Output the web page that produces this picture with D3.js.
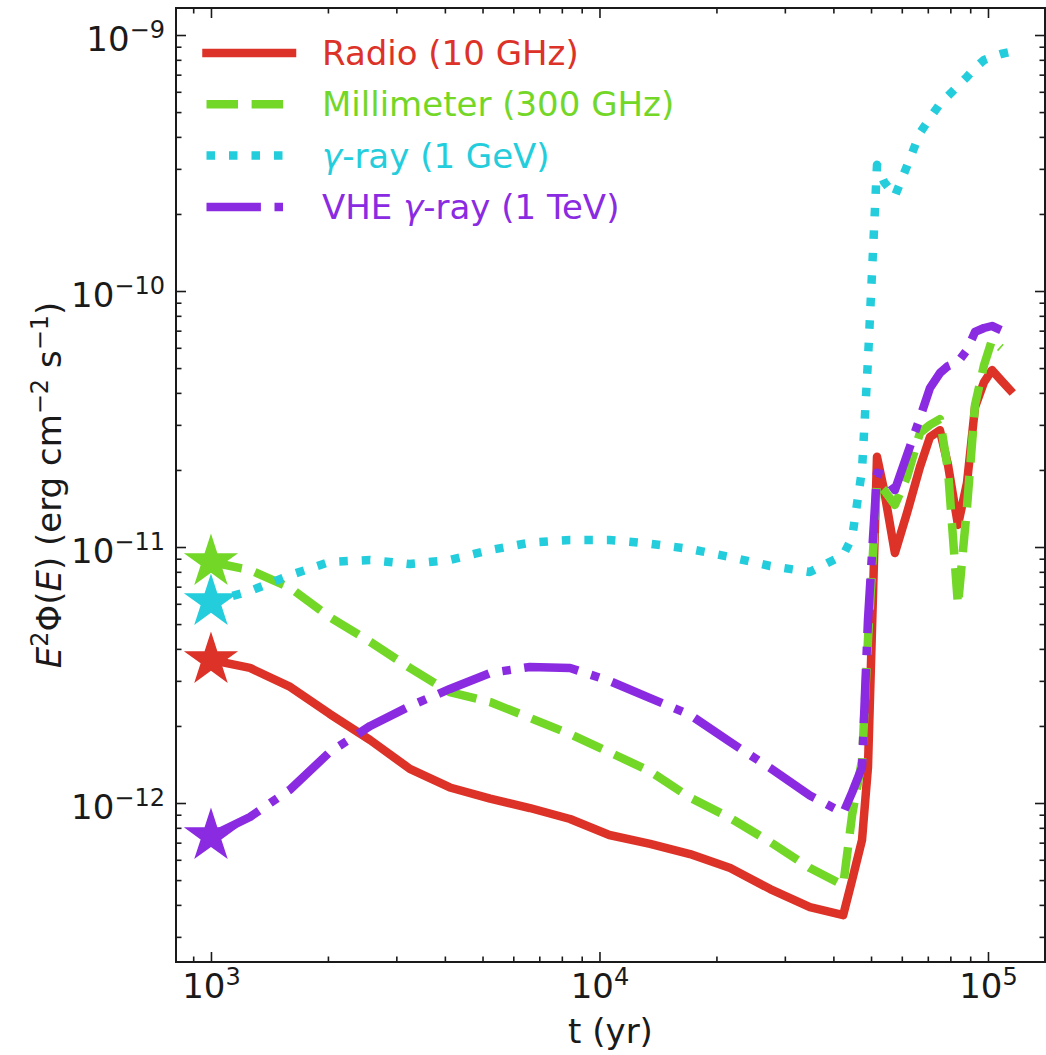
<!DOCTYPE html>
<html>
<head>
<meta charset="utf-8">
<script src="https://cdn.jsdelivr.net/npm/d3@7"></script>
<style>
    body { margin: 0; background: #fff; }
    #chart-area text { font-family: "DejaVu Sans", sans-serif; }
</style>
</head>
<body>
<div id="chart-area"></div>
<script>
// time since explosion (yr)
const times = [1000, 1260, 1600, 2020, 2570, 3250, 4120, 5230, 6620, 8400,
    10600, 13500, 17100, 21700, 27500, 34800, 42400, 44700, 47400, 49100,
    51800, 54000, 57600, 61900, 66800, 70900, 75200, 78900, 83700, 88300,
    92600, 97700, 102400, 108000, 113900];

// E^2 Phi(E), in units of 1e-12 erg cm^-2 s^-1
const fluxUnit = 1e-12;
const radio = [3.62, 3.37, 2.84, 2.23, 1.76, 1.36, 1.15, 1.04, 0.956, 0.866,
    0.750, 0.692, 0.632, 0.557, 0.461, 0.392, 0.365, 0.500, 0.717, 1.38,
    22.5, 16.7, 9.48, 13.6, 20.5, 26.9, 28.6, 20.9, 12.2, 17.8,
    35.2, 44.1, 49.1, 44.9, 41.1];
const millimeter = [8.74, 8.13, 6.92, 5.33, 4.26, 3.37, 2.71, 2.48, 2.15, 1.86,
    1.58, 1.33, 1.05, 0.874, 0.704, 0.557, 0.478, 0.898, 1.47, 4.33,
    17.8, 16.7, 14.6, 18.8, 27.9, 30.0, 31.6, 20.0, 5.93, 14.3,
    35.9, 51.4, 64.4, 59.9, null];
const gammaRay = [6.10, 6.73, 7.77, 8.74, 8.90, 8.58, 8.90, 9.73, 10.4, 10.65,
    10.65, 10.3, 9.82, 9.14, 8.43, 7.99, 9.30, 10.9, 20.0, 53.8,
    311, 267, 235, 308, 414, 474, 538, 578, 632, 686,
    743, 799, 821, 843, 858];
const vheGammaRay = [0.743, 0.882, 1.13, 1.58, 2.00, 2.39, 2.79, 3.22, 3.40, 3.37,
    3.00, 2.57, 2.21, 1.73, 1.37, 1.07, 0.914, 1.10, 1.38, 5.19,
    19.5, 19.1, 16.7, 22.9, 31.9, 41.8, 47.8, 50.9, 52.8, 58.8,
    69.2, 71.7, 73.0, 70.4, null];

const seriesLabels = ["Radio (10 GHz)", "Millimeter (300 GHz)", "γ-ray (1 GeV)", "VHE γ-ray (1 TeV)"];
const xMajorTicks = [1e3, 1e4, 1e5];
const yMajorTicks = [1e-12, 1e-11, 1e-10, 1e-9];

class LightCurves {
    constructor(_parentElement, _data){
        this.parentElement = _parentElement;
        this.data = _data;

        this.initVis();
    }

    initVis(){
        let vis = this;

        vis.margin = { top: 8, right: 1, bottom: 93, left: 176 };
        vis.width = 1046 - vis.margin.left - vis.margin.right;
        vis.height = 1055 - vis.margin.top - vis.margin.bottom;

        vis.colors = ["#dc3228", "#73d728", "#23cddc", "#8a2be2"];
        // matplotlib '-', '--', ':', '-.' at lw 8.5
        vis.dashes = [null, "31.5 13.6", "8.5 14", "54.4 13.6 8.5 13.6"];

        vis.root = d3.select("#" + vis.parentElement)
            .append("svg")
            .attr("width", 1046)
            .attr("height", 1055);

        vis.svg = vis.root.append("g")
            .attr("transform", `translate(${vis.margin.left},${vis.margin.top})`);

        vis.x = d3.scaleLog().domain([812.8, 1.402e5]).range([0, vis.width]);
        vis.y = d3.scaleLog().domain([2.393e-13, 1.275e-9]).range([vis.height, 0]);

        vis.line = d3.line()
            .defined(d => d.value != null)
            .x(d => vis.x(d.time))
            .y(d => vis.y(d.value));

        vis.drawAxes();
        vis.wrangleData();
    }

    minorTicks(scale){
        let [a, b] = scale.domain();
        let out = [];
        for (let e = Math.floor(Math.log10(a)); e <= Math.ceil(Math.log10(b)); e++){
            for (let k = 2; k <= 9; k++){
                let v = k * Math.pow(10, e);
                if (v >= a && v <= b) out.push(v);
            }
        }
        return out;
    }

    drawAxes(){
        let vis = this;

        let xMinor = vis.minorTicks(vis.x);
        let yMinor = vis.minorTicks(vis.y);

        let sides = [
            { axis: d3.axisBottom, scale: vis.x, major: xMajorTicks, minor: xMinor, pos: `translate(0,${vis.height})` },
            { axis: d3.axisTop, scale: vis.x, major: xMajorTicks, minor: xMinor, pos: "translate(0,0)" },
            { axis: d3.axisLeft, scale: vis.y, major: yMajorTicks, minor: yMinor, pos: "translate(0,0)" },
            { axis: d3.axisRight, scale: vis.y, major: yMajorTicks, minor: yMinor, pos: `translate(${vis.width},0)` }
        ];

        sides.forEach((s, i) => {
            let gMinor = vis.svg.append("g")
                .attr("transform", s.pos)
                .call(s.axis(s.scale).tickValues(s.minor).tickSize(-5.5).tickFormat(""));
            let gMajor = vis.svg.append("g")
                .attr("transform", s.pos)
                .call(s.axis(s.scale).tickValues(s.major).tickSize(-10).tickFormat(""));

            [gMinor, gMajor].forEach(g => {
                g.select(".domain").remove();
                g.selectAll(".tick text").remove();
                g.selectAll(".tick line").attr("stroke", "#1a1a1a").attr("stroke-width", 1.6);
            });

            // labels only on bottom and left
            if (i === 0 || i === 2){
                gMajor.selectAll(".tick").each(function(d){
                    let exp = Math.round(Math.log10(d));
                    let t = d3.select(this).append("text")
                        .attr("fill", "#1a1a1a")
                        .attr("font-size", 34);
                    if (i === 0){
                        t.attr("y", 36).attr("text-anchor", "middle");
                    } else {
                        t.attr("x", -11).attr("y", 15).attr("text-anchor", "end");
                    }
                    t.append("tspan").text("10");
                    t.append("tspan")
                        .attr("dy", -13)
                        .attr("font-size", 24)
                        .text(exp < 0 ? "\u2212" + Math.abs(exp) : exp);
                });
            }
        });

        // frame
        vis.svg.append("rect")
            .attr("width", vis.width)
            .attr("height", vis.height)
            .attr("fill", "none")
            .attr("stroke", "#1a1a1a")
            .attr("stroke-width", 2);

        // x label
        vis.svg.append("text")
            .attr("x", vis.width / 2)
            .attr("y", vis.height + 81)
            .attr("text-anchor", "middle")
            .attr("font-size", 34)
            .attr("fill", "#1a1a1a")
            .text("t (yr)");

        // y label
        let yl = vis.root.append("text")
            .attr("transform", `translate(61,${vis.margin.top + vis.height / 2}) rotate(-90)`)
            .attr("text-anchor", "middle")
            .attr("font-size", 34)
            .attr("fill", "#1a1a1a");
        yl.append("tspan").attr("font-style", "italic").text("E");
        yl.append("tspan").attr("dy", -13).attr("font-size", 24).text("2");
        yl.append("tspan").attr("dy", 13).text("Φ(");
        yl.append("tspan").attr("font-style", "italic").text("E");
        yl.append("tspan").text(") (erg cm");
        yl.append("tspan").attr("dy", -13).attr("font-size", 24).text("\u22122");
        yl.append("tspan").attr("dy", 13).text(" s");
        yl.append("tspan").attr("dy", -13).attr("font-size", 24).text("\u22121");
        yl.append("tspan").attr("dy", 13).text(")");
    }

    wrangleData(){
        let vis = this;

        vis.displayData = vis.data.map(s => ({
            label: s.label,
            points: times.map((t, i) => ({
                time: t,
                value: s.values[i] == null ? null : s.values[i] * fluxUnit
            }))
        }));

        vis.updateVis();
    }

    updateVis(){
        let vis = this;

        vis.svg.selectAll(".curve")
            .data(vis.displayData)
            .enter().append("path")
            .attr("class", "curve")
            .attr("d", d => vis.line(d.points))
            .attr("fill", "none")
            .attr("stroke", (d, i) => vis.colors[i])
            .attr("stroke-width", 8.5)
            .attr("stroke-linejoin", "round")
            .attr("stroke-linecap", (d, i) => i === 0 ? "square" : "butt")
            .attr("stroke-dasharray", (d, i) => vis.dashes[i]);

        // first snapshot marked with a star
        vis.svg.selectAll(".star")
            .data(vis.displayData)
            .enter().append("path")
            .attr("class", "star")
            .attr("d", d3.symbol(d3.symbolStar, 912))
            .attr("transform", d => `translate(${vis.x(d.points[0].time)},${vis.y(d.points[0].value)})`)
            .attr("fill", (d, i) => vis.colors[i]);

        // legend, no frame
        let legend = vis.root.selectAll(".legend-row")
            .data(vis.displayData)
            .enter().append("g")
            .attr("class", "legend-row")
            .attr("transform", (d, i) => `translate(0,${53 + i * 51.3})`);

        legend.append("line")
            .attr("x1", 206.5)
            .attr("x2", 292)
            .attr("stroke", (d, i) => vis.colors[i])
            .attr("stroke-width", 8.5)
            .attr("stroke-linecap", (d, i) => i === 0 ? "square" : "butt")
            .attr("stroke-dasharray", (d, i) => vis.dashes[i]);

        legend.append("text")
            .attr("x", 322)
            .attr("y", 12)
            .attr("font-size", 34)
            .attr("fill", (d, i) => vis.colors[i])
            .each(function(d){
                let t = d3.select(this);
                let parts = d.label.split("γ");
                parts.forEach((p, j) => {
                    if (j > 0) t.append("tspan").attr("font-style", "italic").text("γ");
                    if (p) t.append("tspan").text(p);
                });
            });
    }
}

let chart = new LightCurves("chart-area", [
    { label: seriesLabels[0], values: radio },
    { label: seriesLabels[1], values: millimeter },
    { label: seriesLabels[2], values: gammaRay },
    { label: seriesLabels[3], values: vheGammaRay }
]);
</script>
</body>
</html>
